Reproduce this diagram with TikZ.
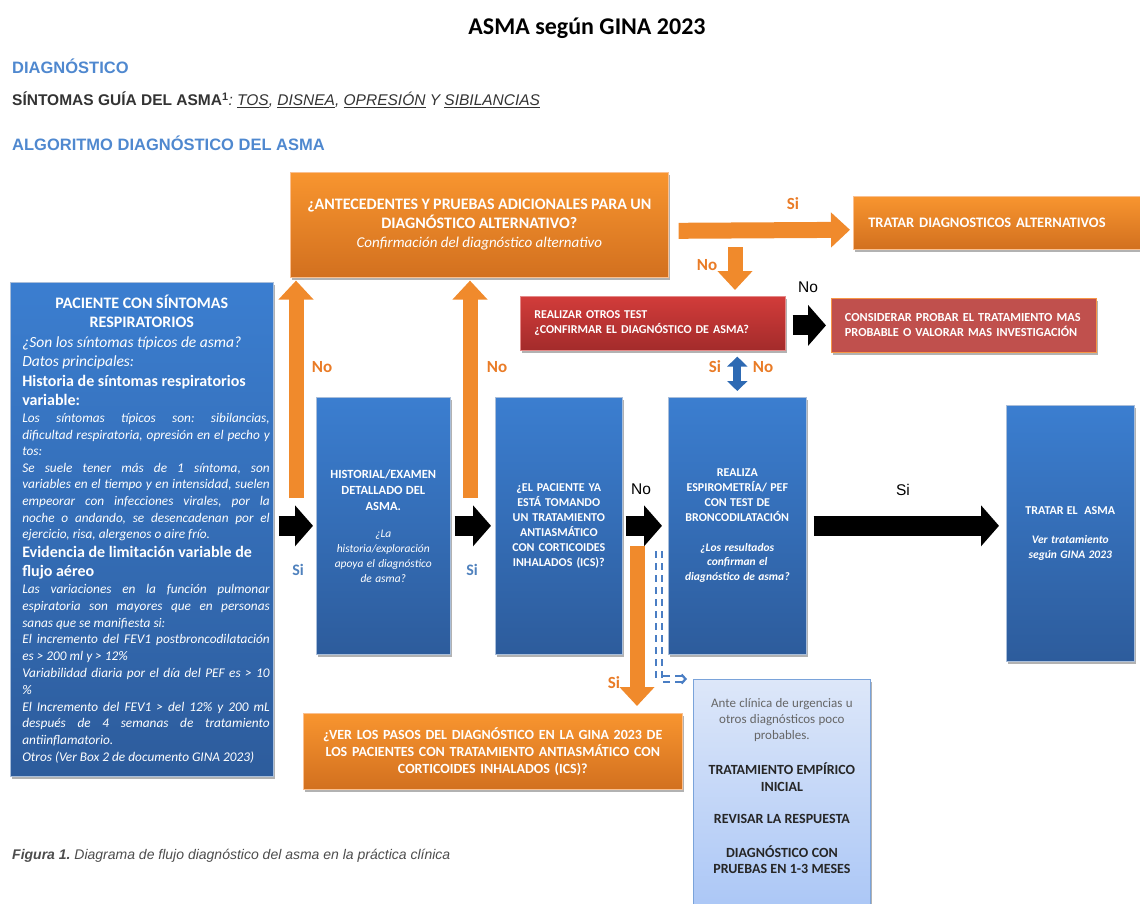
\documentclass[tikz,border=0pt]{standalone}
\usepackage{fontspec}
\setmainfont{Carlito}
\newfontfamily\arialf{Liberation Sans}
\usetikzlibrary{positioning,arrows.meta,calc,shadows}
\setlength{\parindent}{0pt}
\frenchspacing

\definecolor{hdblue}{HTML}{4F88CF}
\definecolor{bluT}{HTML}{3B7ED0}
\definecolor{bluB}{HTML}{2D5C9C}
\definecolor{bluedge}{HTML}{A9BEDA}
\definecolor{orgT}{HTML}{F8952F}
\definecolor{orgB}{HTML}{D2701F}
\definecolor{orgedge}{HTML}{FAC090}
\definecolor{orgarrow}{HTML}{F08A2C}
\definecolor{redT}{HTML}{D23C3A}
\definecolor{redB}{HTML}{A32B2B}
\definecolor{consfill}{HTML}{C0504D}
\definecolor{consedge}{HTML}{F79646}
\definecolor{lbT}{HTML}{DDE7F9}
\definecolor{lbB}{HTML}{AAC6F6}
\definecolor{lbedge}{HTML}{7AA3DA}
\definecolor{orglabel}{HTML}{E97B26}
\definecolor{bluelabel}{HTML}{4F81BD}
\definecolor{dblblue}{HTML}{2E6AB3}
\definecolor{dashblue}{HTML}{4A7EC4}

\newcommand{\fs}[2]{\fontsize{#1}{#2}\selectfont}

\begin{document}
\begin{tikzpicture}[x=1pt,y=-1pt,
		shad/.style={drop shadow={shadow xshift=2pt,shadow yshift=-3pt,opacity=.3,fill=black}},
		bluebox/.style={anchor=north west, draw=bluedge, line width=.6pt, top color=bluT,
			bottom color=bluB, text=white, align=center, inner sep=0pt, shad},
		orgbox/.style={anchor=north west, draw=orgedge, line width=.6pt, top color=orgT,
			bottom color=orgB, text=white, align=center, inner sep=0pt, shad},
		redbox/.style={anchor=north west, draw=redT!60!white, line width=.6pt, top color=redT,
			bottom color=redB, text=white, align=left, inner sep=0pt, shad},
		consbox/.style={anchor=north west, draw=consedge, line width=.8pt, fill=consfill,
			text=white, align=left, inner sep=0pt, shad},
		lightbox/.style={anchor=north west, draw=lbedge, line width=.8pt, top color=lbT,
			bottom color=lbB, inner sep=0pt, shad},
		blkarr/.style={line width=20pt, -{Triangle[length=18pt,width=40pt]}, black},
		orgarr/.style={line width=15pt, -{Triangle[length=19pt,width=34pt]}, orgarrow},
		dblarr/.style={line width=8pt, {Triangle[length=10pt,width=20pt]}-{Triangle[length=10pt,width=20pt]}, dblblue},
		dasharr/.style={draw=dashblue, double=white, double distance=4.5pt, line width=2.2pt,
			dash pattern=on 7pt off 5pt, -{Straight Barb[length=4pt,width=9pt]}},
		lblorg/.style={text=orglabel, font=\bfseries\fs{17}{20}, inner sep=0pt},
		lblblue/.style={text=bluelabel, font=\bfseries\fs{16}{19}, inner sep=0pt},
		lblblk/.style={text=black, font=\arialf\fs{15.5}{18}, inner sep=0pt},
		hd/.style={anchor=west, text=hdblue, font=\arialf\bfseries\fs{16.5}{19}, inner sep=0pt}
	]
	\useasboundingbox (0,0) rectangle (1140,903);

	% titles
	\node[font=\bfseries\fs{24}{28}, inner sep=0pt] (title) at (587,28) {ASMA según GINA 2023};
	\node[hd] (hdiag) at (12,66) {DIAGNÓSTICO};
	\node[anchor=west, inner sep=0pt, font=\arialf\fs{15.5}{18}, text=black!80] (sint) at (12,100)
	{\textbf{SÍNTOMAS GUÍA DEL ASMA}\textsuperscript{\textbf{1}}\itshape: \underline{TOS}, \underline{DISNEA},
		\underline{OPRESIÓN} Y \underline{SIBILANCIAS}};
	\node[hd] (halgo) at (12,143) {ALGORITMO DIAGNÓSTICO DEL ASMA};
	\node[anchor=west, inner sep=0pt, font=\arialf\itshape\fs{14}{16}, text=black!70] (fig) at (12,856)
	{\textbf{Figura 1.} Diagrama de flujo diagnóstico del asma en la práctica clínica};

	% boxes
	\node[bluebox, minimum width=263, minimum height=494, text width=256, align=justify,
		execute at begin node={\hyphenpenalty=10000\tolerance=9999\emergencystretch=20pt}] (pac) at (10,282)
	{{\centering\bfseries\fs{16}{19}PACIENTE CON SÍNTOMAS\\ RESPIRATORIOS\par}
		{\raggedright\leftskip=8.5pt\itshape\fs{15.5}{19.5}¿Son los síntomas típicos de asma?\\ Datos principales:\par}
		{\raggedright\leftskip=8.5pt\bfseries\fs{16}{19.5}Historia de síntomas respiratorios\\ variable:\par}
		{\leftskip=8.5pt\itshape\fs{13.3}{16.6}Los síntomas típicos son: sibilancias,\linebreak
			dificultad respiratoria, opresión en el pecho y\linebreak tos:\par
			Se suele tener más de 1 síntoma, son\linebreak variables en el tiempo y en intensidad, suelen\linebreak
			empeorar con infecciones virales, por la\linebreak noche o andando, se desencadenan por el\linebreak
			ejercicio, risa, alergenos o aire frío.\par}
		{\raggedright\leftskip=8.5pt\bfseries\fs{16}{19}Evidencia de limitación variable de\\ flujo aéreo\par}
		{\leftskip=8.5pt\itshape\fs{13.3}{16.8}Las variaciones en la función pulmonar\linebreak
			espiratoria son mayores que en personas\linebreak sanas que se manifiesta si:\par
			El incremento del FEV1 postbroncodilatación\linebreak es > 200 ml y > 12\%\par
			Variabilidad diaria por el día del PEF es > 10\linebreak \%\par
			El Incremento del FEV1 > del 12\% y 200 mL\linebreak después de 4 semanas de tratamiento\linebreak
			antiinflamatorio.\par
			Otros (Ver Box 2 de documento GINA 2023)\par}};

	\node[orgbox, minimum width=378, minimum height=105, text width=370] (ante) at (290,172)
	{{\bfseries\fs{16}{19}¿ANTECEDENTES Y PRUEBAS ADICIONALES PARA UN\\ DIAGNÓSTICO ALTERNATIVO?\par}
		{\itshape\fs{15}{19}Confirmación del diagnóstico alternativo\par}};

	\node[orgbox, minimum width=292, minimum height=53, text width=262, align=left,
		font=\bfseries\fs{14.5}{17}] (alt) at (853,196) {TRATAR DIAGNOSTICOS ALTERNATIVOS};

	\node[redbox, minimum width=265, minimum height=54, text width=237,
		font=\bfseries\fs{12}{15}] (realiza) at (520,296)
	{REALIZAR OTROS TEST\\ ¿CONFIRMAR EL DIAGNÓSTICO DE ASMA?};

	\node[consbox, minimum width=265, minimum height=54, text width=238,
		font=\bfseries\fs{12.3}{15}] (considera) at (831,298)
	{CONSIDERAR PROBAR EL TRATAMIENTO MAS\\ PROBABLE O VALORAR MAS INVESTIGACIÓN};

	\node[bluebox, minimum width=134, minimum height=257, text width=128] (hist) at (316,397)
	{{\bfseries\fs{12.5}{16}HISTORIAL/EXAMEN\\ DETALLADO DEL\\ ASMA.\par}\vspace{12pt}
		{\itshape\fs{11.5}{15}¿La\\ historia/exploración\\ apoya el diagnóstico\\ de asma?\par}};

	\node[bluebox, minimum width=127, minimum height=257, text width=121,
		font=\bfseries\fs{12}{15}] (ics) at (495,397)
	{¿EL PACIENTE YA\\ ESTÁ TOMANDO\\ UN TRATAMIENTO\\ ANTIASMÁTICO\\ CON CORTICOIDES\\ INHALADOS (ICS)?};

	\node[bluebox, minimum width=138, minimum height=257, text width=132] (espiro) at (668,397)
	{{\bfseries\fs{12}{15}REALIZA\\ ESPIROMETRÍA/ PEF\\ CON TEST DE\\ BRONCODILATACIÓN\par}\vspace{15pt}
		{\bfseries\itshape\fs{11.5}{14.5}¿Los resultados\\ confirman el\\ diagnóstico de asma?\par}};

	\node[bluebox, minimum width=128, minimum height=256, text width=122] (tratar) at (1006,405)
	{{\bfseries\fs{12}{15}TRATAR EL\ \ ASMA\par}\vspace{14pt}
		{\bfseries\itshape\fs{11.5}{15}Ver tratamiento\\ según GINA 2023\par}};

	\node[orgbox, minimum width=379, minimum height=76, text width=370,
		font=\bfseries\fs{14}{17}] (verpasos) at (303,713)
	{¿VER LOS PASOS DEL DIAGNÓSTICO EN LA GINA 2023 DE\\ LOS PACIENTES CON TRATAMIENTO ANTIASMÁTICO CON\\
		CORTICOIDES INHALADOS (ICS)?};

	\node[lightbox, minimum width=177, minimum height=235] (empirico) at (693,679) {};
	\node[below=19pt of empirico.north, inner sep=0pt, align=center, text width=172] (empiricotxt)
	{{\fs{13}{16}\color{black!60}Ante clínica de urgencias u\\ otros diagnósticos poco\\ probables.\par}\vspace{19pt}
		{\bfseries\fs{14}{16.5}\color{black!85}TRATAMIENTO EMPÍRICO\\ INICIAL\par\vspace{16pt}
			REVISAR LA RESPUESTA\par\vspace{17pt}
			DIAGNÓSTICO CON\\ PRUEBAS EN 1-3 MESES\par}};

	% free ends of branch arrows
	\coordinate (noA) at (296,498);
	\coordinate (noB) at (470,498);
	\coordinate (siC) at (637,546);
	\coordinate (noD) at (735,247);
	\coordinate (dstart) at (659,551);

	% connectors
	\draw[blkarr] ([xshift=5pt]pac.east |- hist.west) -- ([xshift=-3pt]hist.west);
	\draw[blkarr] ([xshift=4pt]hist.east) -- ([xshift=-4pt]ics.west);
	\draw[blkarr] ([xshift=3pt]ics.east) -- ([xshift=-6pt]espiro.west);
	\draw[blkarr] ([xshift=7pt]espiro.east) -- ([xshift=-7pt]tratar.west |- espiro.east);
	\draw[blkarr] ([xshift=7pt]realiza.east |- considera.west) -- ([xshift=-5pt]considera.west);
	\draw[orgarr] (noA) -- ([yshift=-3pt]noA |- ante.south);
	\draw[orgarr] (noB) -- ([yshift=-3pt]noB |- ante.south);
	\draw[orgarr] (siC) -- ([yshift=7pt]siC |- verpasos.north);
	\draw[orgarr] (noD) -- ([yshift=6pt]noD |- realiza.north);
	\draw[orgarr, line width=16pt] ([xshift=10pt,yshift=-6pt]ante.east) -- ([xshift=-3pt,yshift=-7pt]alt.west);
	\draw[dblarr] ([yshift=-6pt]espiro.north |- realiza.south) -- ([yshift=6pt]espiro.north);
	\draw[dasharr] (dstart) |- ([xshift=-6pt]empirico.north west);

	% labels
	\node[lblorg] (lnoA) at (322,367) {No};
	\node[lblorg] (lnoB) at (497,367) {No};
	\node[lblblue] (lsiA) at (298,570) {Si};
	\node[lblblue] (lsiB) at (472,570) {Si};
	\node[lblblk] (lnoC) at (641,489) {No};
	\node[lblblk] (lsiD) at (903,490) {Si};
	\node[lblorg] (lsiC) at (614,683) {Si};
	\node[lblorg] (lsiE) at (793,204) {Si};
	\node[lblorg] (lnoD) at (707,265) {No};
	\node[lblblk] (lnoE) at (808,287) {No};
	\node[lblorg] (lsiF) at (715,367) {Si};
	\node[lblorg] (lnoF) at (763,367) {No};
\end{tikzpicture}
\end{document}
